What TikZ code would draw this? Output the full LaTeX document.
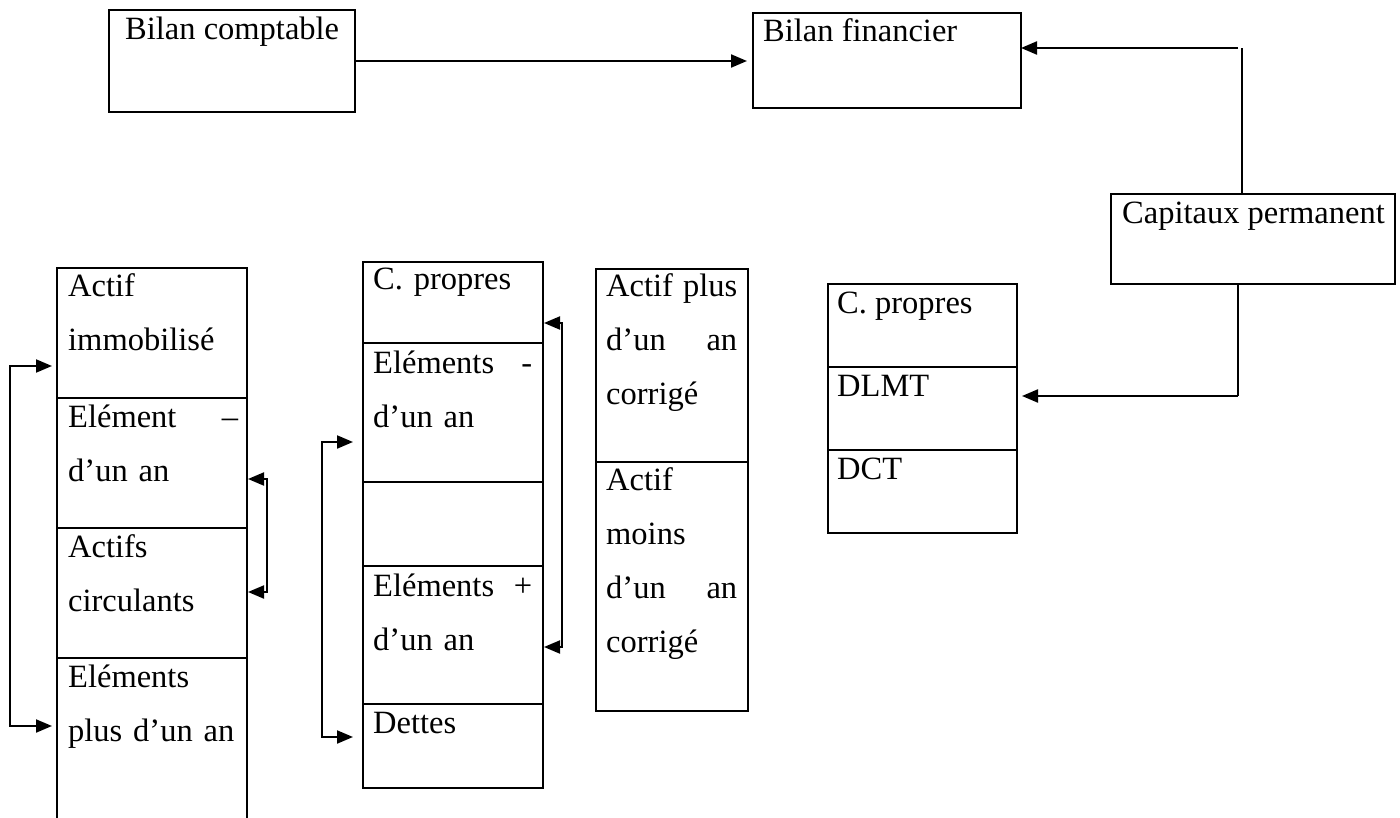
\documentclass[tikz,border=0pt]{standalone}
\usepackage{fontspec}
\setmainfont{Liberation Serif}
\usetikzlibrary{arrows.meta,calc}
\begin{document}
\begin{tikzpicture}[x=1pt,y=-1pt,
  box/.style={draw, line width=2pt, rectangle, anchor=north west, inner sep=0pt, outer sep=0pt},
  txt/.style={anchor=base west, inner sep=0pt, align=left, font=\fontsize{32.5}{54}\selectfont},
  arr/.style={line width=2.2pt, -{Triangle[length=16pt,width=13pt]}},
  dbl/.style={line width=2pt, {Triangle[length=16pt,width=13pt]}-{Triangle[length=16pt,width=13pt]}},
  ln/.style={line width=1.3pt}]
\useasboundingbox (0,0) rectangle (1400,818);
\clip (0,0) rectangle (1400,818);

% ---------- top row ----------
\node[box, minimum width=246pt, minimum height=102pt] (bc) at (109,10) {};
\node[txt] (bct) at ([xshift=16pt, yshift=-30pt]bc.north west) {Bilan comptable};
\node[box, minimum width=268pt, minimum height=95pt] (bf) at (753,13) {};
\node[txt] (bft) at ([xshift=10pt, yshift=-29pt]bf.north west) {Bilan financier};
\node[box, minimum width=284pt, minimum height=90pt] (cp) at (1111,194) {};
\node[txt] (cpt) at ([xshift=11pt, yshift=-30pt]cp.north west) {Capitaux permanent};

% ---------- left column ----------
\node[box, minimum width=190pt, minimum height=130pt] (ai) at (57,268) {};
\node[box, minimum width=190pt, minimum height=130pt] (el) at (ai.south west) {};
\node[box, minimum width=190pt, minimum height=130pt] (ac) at (el.south west) {};
\node[box, minimum width=190pt, minimum height=180pt] (ep) at (ac.south west) {};
\node[txt, text width=170pt] (ait) at ([xshift=11pt, yshift=-29pt]ai.north west) {Actif\\immobilisé};
\node[txt, text width=170pt] (elt) at ([xshift=11pt, yshift=-29pt]el.north west) {Elément\hfill –\\d’un an};
\node[txt, text width=170pt] (act) at ([xshift=11pt, yshift=-29pt]ac.north west) {Actifs\\circulants};
\node[txt, text width=170pt] (ept) at ([xshift=11pt, yshift=-29pt]ep.north west) {Eléments\\plus d’un an};

\coordinate (l1) at (10,366);
\coordinate (l2) at (10,726);
\draw[dbl, shorten <=5pt, shorten >=5pt] (l1 -| ai.west) -- (l1) -- (l2) -- (l2 -| ep.west);
\coordinate (r1) at (267,479);
\coordinate (r2) at (267,592);
\draw[dbl, shorten <=1pt, shorten >=1pt] (r1 -| el.east) -- (r1) -- (r2) -- (r2 -| ac.east);

% ---------- middle column ----------
\node[box, minimum width=180pt, minimum height=81pt] (mc) at (363,262) {};
\node[box, minimum width=180pt, minimum height=139pt] (mm) at (mc.south west) {};
\node[box, minimum width=180pt, minimum height=84pt] (me) at (mm.south west) {};
\node[box, minimum width=180pt, minimum height=138pt] (mp) at (me.south west) {};
\node[box, minimum width=180pt, minimum height=84pt] (md) at (mp.south west) {};
\node[txt, text width=159pt] (mct) at ([xshift=10pt, yshift=-28pt]mc.north west) {C. propres};
\node[txt, text width=159pt] (mmt) at ([xshift=10pt, yshift=-30pt]mm.north west) {Eléments\hfill -\\d’un an};
\node[txt, text width=159pt] (mpt) at ([xshift=10pt, yshift=-30pt]mp.north west) {Eléments\hfill +\\d’un an};
\node[txt, text width=159pt] (mdt) at ([xshift=10pt, yshift=-29pt]md.north west) {Dettes};

\coordinate (m1) at (322,442);
\coordinate (m2) at (322,737);
\draw[dbl, shorten <=10pt, shorten >=10pt] (m1 -| mm.west) -- (m1) -- (m2) -- (m2 -| md.west);
\coordinate (n1) at (562,323);
\coordinate (n2) at (562,647);
\draw[dbl, shorten <=1pt, shorten >=1pt] (n1 -| mc.east) -- (n1) -- (n2) -- (n2 -| mp.east);

% ---------- corrected assets ----------
\node[box, minimum width=152pt, minimum height=193pt] (ap) at (596,269) {};
\node[box, minimum width=152pt, minimum height=249pt] (am) at (ap.south west) {};
\node[txt, text width=131pt] (apt) at ([xshift=10pt, yshift=-28pt]ap.north west) {Actif\hfill plus\\d’un\hfill an\\corrigé};
\node[txt, text width=131pt] (amt) at ([xshift=10pt, yshift=-28pt]am.north west) {Actif\\moins\\d’un\hfill an\\corrigé};

% ---------- right column ----------
\node[box, minimum width=189pt, minimum height=83pt] (rc) at (828,284) {};
\node[box, minimum width=189pt, minimum height=83pt] (dlmt) at (rc.south west) {};
\node[box, minimum width=189pt, minimum height=83pt] (dct) at (dlmt.south west) {};
\node[txt] (rct) at ([xshift=9pt, yshift=-29pt]rc.north west) {C. propres};
\node[txt] (dlmtt) at ([xshift=9pt, yshift=-29pt]dlmt.north west) {DLMT};
\node[txt] (dctt) at ([xshift=9pt, yshift=-29pt]dct.north west) {DCT};

% ---------- connectors ----------
\draw[arr, shorten >=6pt] (bc.east) -- (bc.east -| bf.west);
\coordinate (k1) at (1242,48);
\draw[ln] (k1 |- cp.north) -- (k1);
\draw[arr] (1238,48) -- (k1 -| bf.east);
\coordinate (k2) at (1238,396);
\draw[ln] (k2 |- cp.south) -- (k2);
\draw[arr, shorten >=5pt] (k2) -- (k2 -| dlmt.east);
\end{tikzpicture}
\end{document}
